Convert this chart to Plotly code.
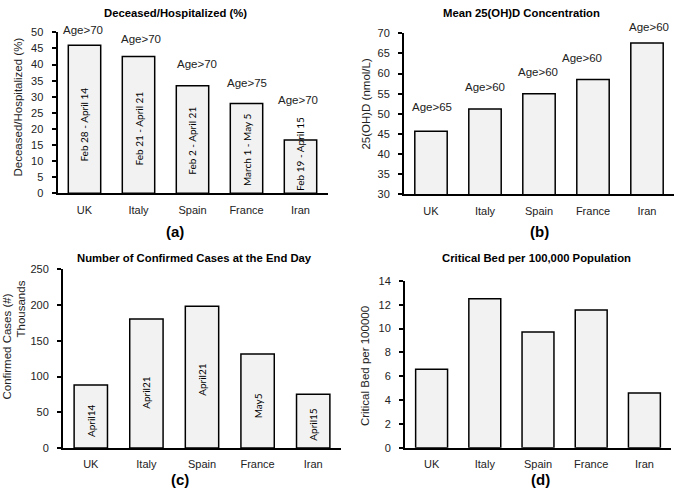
import plotly.graph_objects as go

# ---------------- data ----------------
countries = ["UK", "Italy", "Spain", "France", "Iran"]

deceased_pct = [46.0, 42.5, 33.4, 27.9, 16.6]
deceased_age = ["Age>70", "Age>70", "Age>70", "Age>75", "Age>70"]
deceased_period = ["Feb 28 - April 14", "Feb 21 - April 21", "Feb 2 - April 21",
                   "March 1 - May 5", "Feb 19 - April 15"]

vitd_mean = [45.7, 51.2, 55.0, 58.5, 67.6]
vitd_age = ["Age>65", "Age>60", "Age>60", "Age>60", "Age>60"]

cases_thousands = [88.4, 180.7, 198.5, 131.6, 75.5]
cases_end_day = ["April14", "April21", "April21", "May5", "April15"]

critical_beds = [6.59, 12.5, 9.72, 11.56, 4.59]

# ---------------- label placement (layout only, pixels / axis units) ----------------
age_a_yshift = [15, 17, 22, 21, 40]
age_a_xshift = [-2, 2, 4, 0, -3]
period_a_y = [21.2, 20.0, 16.2, 13.6, 12.1]
age_b_yshift = [24, 22.5, 22, 22, 16]
age_b_xshift = [1, 0, -1, -11, 2]
end_c_y = [38.9, 77.9, 95.6, 59.2, 33.0]

W, H = 676, 497
def px(x):
    return x / W
def py(y):
    return 1 - y / H

AX_FONT = dict(family="Liberation Sans, Arial", size=11, color="#222222")
BAR_FILL = "#f2f2f2"

fig = go.Figure()
panels = [
    ("x", "y", deceased_pct),
    ("x2", "y2", vitd_mean),
    ("x3", "y3", cases_thousands),
    ("x4", "y4", critical_beds),
]
for xa, ya, vals in panels:
    fig.add_trace(go.Bar(
        x=countries, y=vals, xaxis=xa, yaxis=ya,
        marker=dict(color=BAR_FILL, line=dict(color="black", width=1.5)),
        width=0.6, showlegend=False, hoverinfo="x+y",
    ))

def xaxis_cfg(d0, d1, anchor):
    return dict(domain=[px(d0), px(d1)], anchor=anchor, type="category",
                range=[-0.5, 4.5], showline=True, linecolor="black", linewidth=2,
                showgrid=False, zeroline=False, ticks="", tickfont=AX_FONT,
                ticklabelstandoff=5, fixedrange=True)

def yaxis_cfg(top, bottom, anchor, rng, dtick):
    return dict(domain=[py(bottom), py(top)], anchor=anchor, range=rng, dtick=dtick,
                showline=True, linecolor="black", linewidth=2, showgrid=False,
                zeroline=False, ticks="outside", ticklen=4, tickwidth=1.5,
                tickcolor="black", tickfont=AX_FONT, ticklabelstandoff=6,
                fixedrange=True)

fig.update_layout(
    width=W, height=H, margin=dict(l=0, r=0, t=0, b=0),
    paper_bgcolor="white", plot_bgcolor="white",
    font=dict(family="Liberation Sans, Arial", color="#222222"),
    xaxis=xaxis_cfg(57.5, 327.5, "y"),
    yaxis=yaxis_cfg(27, 192, "x", [0, 50], 5),
    xaxis2=xaxis_cfg(404, 674, "y2"),
    yaxis2=yaxis_cfg(28, 193, "x2", [30, 70], 5),
    xaxis3=xaxis_cfg(63, 341, "y3"),
    yaxis3=yaxis_cfg(270, 453, "x3", [0, 250], 50),
    xaxis4=xaxis_cfg(405, 671, "y4"),
    yaxis4=yaxis_cfg(281.7, 452.7, "x4", [0, 14], 2),
)

ann = []
TITLE_FONT = dict(family="Liberation Sans, Arial", size=11.3, color="black")
def ptext(text, x, y, font, angle=0):
    ann.append(dict(text=text, x=px(x), y=py(y), xref="paper", yref="paper",
                    showarrow=False, font=font, textangle=angle,
                    xanchor="center", yanchor="middle"))

# panel titles
ptext("<b>Deceased/Hospitalized (%)</b>", 175, 7, TITLE_FONT)
ptext("<b>Mean 25(OH)D Concentration</b>", 521, 7, TITLE_FONT)
ptext("<b>Number of Confirmed Cases at the End Day</b>", 194, 258, TITLE_FONT)
ptext("<b>Critical Bed per 100,000 Population</b>", 536, 258, TITLE_FONT)

# y-axis titles
YT_FONT = dict(family="Liberation Sans, Arial", size=11.5, color="#222222")
ptext("Deceased/Hospitalized (%)", 18, 104, YT_FONT, -90)
ptext("25(OH)D (nmol/L)", 366, 100, YT_FONT, -90)
ptext("Confirmed Cases (#)", 7, 349, YT_FONT, -90)
ptext("Thousands", 21, 311, YT_FONT, -90)
ptext("Critical Bed per 100000", 365, 369, YT_FONT, -90)

# panel letters
PL_FONT = dict(family="Liberation Sans, Arial", size=15, color="black")
ptext("<b>(a)</b>", 175, 231, PL_FONT)
ptext("<b>(b)</b>", 539, 231, PL_FONT)
ptext("<b>(c)</b>", 180, 485, PL_FONT)
ptext("<b>(d)</b>", 540, 485, PL_FONT)

AGE_FONT = dict(family="Liberation Sans, Arial", size=11.5, color="#222222")
IN_FONT = dict(family="Lato, Carlito, Calibri", size=10, color="black")
for i, c in enumerate(countries):
    ann.append(dict(text=deceased_age[i], x=c, y=deceased_pct[i], xref="x", yref="y",
                    showarrow=False, font=AGE_FONT,
                    yshift=age_a_yshift[i], xshift=age_a_xshift[i]))
    ann.append(dict(text=deceased_period[i], x=c, y=period_a_y[i], xref="x", yref="y",
                    showarrow=False, font=IN_FONT, textangle=-90))
    ann.append(dict(text=vitd_age[i], x=c, y=vitd_mean[i], xref="x2", yref="y2",
                    showarrow=False, font=AGE_FONT,
                    yshift=age_b_yshift[i], xshift=age_b_xshift[i]))
    ann.append(dict(text=cases_end_day[i], x=c, y=end_c_y[i], xref="x3", yref="y3",
                    showarrow=False, font=IN_FONT, textangle=-90))

fig.update_layout(annotations=ann)
fig.write_html("out.html", config={"displayModeBar": False},
               post_script="document.body.style.margin='0';document.body.style.overflow='hidden';")
